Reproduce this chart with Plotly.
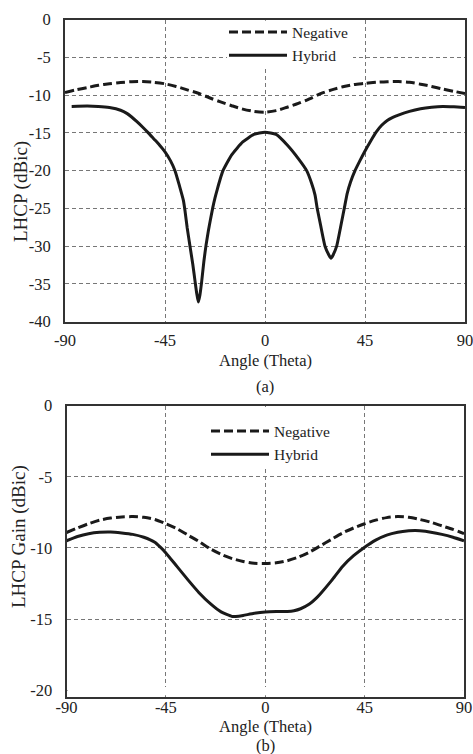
import plotly.graph_objects as go

# (a) LHCP vs angle
a_neg_theta = [-90, -85, -80, -75, -70, -65, -60, -55, -50, -45, -40, -35, -30, -25, -20, -15, -10, -5,
               0, 5, 10, 15, 20, 25, 30, 35, 40, 45, 50, 55, 60, 65, 70, 75, 80, 85, 90]
a_neg_val = [-9.65, -9.3, -9.0, -8.7, -8.5, -8.33, -8.22, -8.2, -8.3, -8.5, -8.85, -9.3, -9.75, -10.35,
             -10.9, -11.4, -11.85, -12.15, -12.25, -12.05, -11.6, -11.1, -10.5, -9.8, -9.3, -8.9, -8.6,
             -8.45, -8.3, -8.22, -8.2, -8.3, -8.55, -8.85, -9.2, -9.5, -9.8]

a_hyb_theta = [-87, -80, -75, -70, -65, -62, -60, -57.5, -55, -52.5, -50, -47.5, -45, -42.5, -40.5, -38.5,
               -36.75, -36, -35, -33.75, -32.5, -31.5, -30.7, -30, -29.3, -28.5, -27.5, -26.5, -25.5,
               -24.5, -23.5, -22.5, -21.5, -20.25, -18.9, -15, -10, -5, 0, 5, 10, 15, 18.75, 21, 22.5,
               23.5, 25, 27, 28.8, 29.7, 30.6, 32.25, 34, 36, 37, 38.5, 40.5, 42.5, 45, 47.5, 50, 52.5,
               55, 57.5, 60, 65, 70, 75, 80, 85, 90]
a_hyb_val = [-11.5, -11.45, -11.5, -11.65, -12.0, -12.45, -12.9, -13.55, -14.25, -15.0, -15.8, -16.6, -17.5,
             -18.7, -20.0, -22.0, -23.9, -25.3, -27.6, -30.0, -32.4, -34.6, -36.3, -37.4, -36.5, -34.7,
             -32.0, -29.8, -28.0, -26.4, -24.9, -23.6, -22.5, -21.2, -20.0, -17.9, -16.2, -15.2, -14.9,
             -15.2, -16.6, -18.4, -20.0, -21.7, -23.2, -25.0, -27.2, -30.0, -31.2, -31.6, -31.2, -30.0,
             -27.5, -24.5, -23.0, -21.5, -20.0, -18.8, -17.4, -16.1, -14.9, -14.0, -13.35, -12.95, -12.65,
             -12.15, -11.8, -11.6, -11.5, -11.55, -11.65]

# (b) LHCP gain vs angle
b_neg_theta = [-90, -85, -80, -75, -70, -65, -60, -55, -50, -45, -40, -35, -30, -25, -20, -15, -10, -5,
               0, 5, 10, 15, 20, 25, 30, 35, 40, 45, 50, 55, 60, 65, 70, 75, 80, 85, 90]
b_neg_val = [-8.92, -8.6, -8.3, -8.05, -7.9, -7.82, -7.8, -7.85, -8.0, -8.3, -8.65, -9.1, -9.55, -10.05,
             -10.45, -10.75, -10.95, -11.08, -11.1, -11.05, -10.9, -10.65, -10.3, -9.85, -9.4, -8.95,
             -8.6, -8.3, -8.05, -7.87, -7.8, -7.85, -8.0, -8.2, -8.45, -8.7, -9.0]

b_hyb_theta = [-90, -85, -80, -75, -70, -65, -60, -55, -50, -47.5, -45, -40, -35, -30, -25, -20, -15, -12,
               -10, -5, 0, 5, 10, 13, 16, 20, 23, 25, 30, 35, 40, 45, 50, 55, 60, 65, 68, 70, 75, 80, 85, 90]
b_hyb_val = [-9.5, -9.2, -9.0, -8.9, -8.88, -8.95, -9.05, -9.25, -9.6, -9.95, -10.35, -11.3, -12.25, -13.15,
             -13.9, -14.5, -14.82, -14.8, -14.75, -14.6, -14.5, -14.47, -14.47, -14.42, -14.28, -13.95,
             -13.55, -13.22, -12.3, -11.3, -10.55, -9.95, -9.45, -9.1, -8.9, -8.8, -8.78, -8.8, -8.9,
             -9.05, -9.25, -9.5]

x_ticks = [-90, -45, 0, 45, 90]
a_y_ticks = [0, -5, -10, -15, -20, -25, -30, -35, -40]
b_y_ticks = [0, -5, -10, -15, -20]

W, H = 473, 754
FONT = "'Liberation Serif', 'Times New Roman', serif"
FS = 16.5
INK = "#222222"


def px_x(v):
    return v / W


def px_y(v):
    return 1 - v / H


def labels(vals):
    # plain hyphen for negatives, like the original
    return [str(v) for v in vals]


fig = go.Figure()

neg_style = dict(color="#1a1a1a", width=3, dash="9px,4px", shape="spline", smoothing=0.8)
hyb_style = dict(color="#1a1a1a", width=3, shape="spline", smoothing=0.5)

fig.add_trace(go.Scatter(x=a_neg_theta, y=a_neg_val, mode="lines", name="Negative", line=neg_style,
                         xaxis="x", yaxis="y", legend="legend"))
fig.add_trace(go.Scatter(x=a_hyb_theta, y=a_hyb_val, mode="lines", name="Hybrid", line=hyb_style,
                         xaxis="x", yaxis="y", legend="legend"))
fig.add_trace(go.Scatter(x=b_neg_theta, y=b_neg_val, mode="lines", name="Negative", line=neg_style,
                         xaxis="x2", yaxis="y2", legend="legend2"))
fig.add_trace(go.Scatter(x=b_hyb_theta, y=b_hyb_val, mode="lines", name="Hybrid", line=hyb_style,
                         xaxis="x2", yaxis="y2", legend="legend2"))

grid = dict(showgrid=True, gridcolor="#777777", gridwidth=1, griddash="4px,3px",
            showline=True, linecolor="#333333", linewidth=2, mirror=True, zeroline=False,
            automargin=False, ticks="", ticklabeloverflow="allow",
            tickfont=dict(family=FONT, size=FS, color=INK))

leg = dict(xanchor="left", yanchor="top", bgcolor="rgba(0,0,0,0)", borderwidth=0, itemwidth=58,
           font=dict(family=FONT, size=15.5, color=INK), tracegroupgap=0)

fig.update_layout(
    width=W, height=H,
    template="plotly_white",
    margin=dict(l=0, r=0, t=0, b=0, autoexpand=False),
    paper_bgcolor="white", plot_bgcolor="white",
    font=dict(family=FONT, size=FS, color=INK),
    xaxis=dict(domain=[px_x(65), px_x(465)], range=[-90, 90], tickvals=x_ticks, ticktext=labels(x_ticks),
               anchor="y", ticklabelstandoff=2, **grid),
    yaxis=dict(domain=[px_y(321.7), px_y(19.6)], range=[-40, 0], tickvals=a_y_ticks,
               ticktext=labels(a_y_ticks), anchor="x", ticklabelstandoff=9, **grid),
    xaxis2=dict(domain=[px_x(66.5), px_x(464)], range=[-90, 90], tickvals=x_ticks, ticktext=labels(x_ticks),
                anchor="y2", ticklabelstandoff=-5, **grid),
    yaxis2=dict(domain=[px_y(696.5), px_y(405.7)], range=[-20.45, 0], tickvals=b_y_ticks,
                ticktext=labels(b_y_ticks), anchor="x2", ticklabelstandoff=9, **grid),
    legend=dict(x=px_x(224), y=px_y(15.5), **leg),
    legend2=dict(x=px_x(206), y=px_y(414.5), **leg),
    showlegend=True,
)

# white boxes behind the legends, hiding the grid there but not the frame;
# the last one hides the -20 grid line that sits just above the lower frame
for x0, x1, y0, y1 in [(227, 353, 20.8, 67), (209, 331, 406.9, 467), (67.6, 462.9, 687, 695.3)]:
    fig.add_shape(type="rect", xref="paper", yref="paper", x0=px_x(x0), x1=px_x(x1),
                  y0=px_y(y1), y1=px_y(y0), fillcolor="white", line_width=0, layer="above")

notes = [
    ("LHCP (dBic)", 21, 192, -90, 19),
    ("LHCP Gain (dBic)", 19, 537, -90, 19),
    ("Angle (Theta)", 265, 360, 0, FS),
    ("(a)", 265, 386.7, 0, FS),
    ("Angle (Theta)", 265, 726.7, 0, FS),
    ("(b)", 265, 745, 0, FS),
]
for text, x, y, ang, size in notes:
    fig.add_annotation(text=text, x=px_x(x), y=px_y(y), xref="paper", yref="paper",
                       showarrow=False, textangle=ang, xanchor="center", yanchor="middle",
                       font=dict(family=FONT, size=size, color=INK))

fig.write_html("out.html", config={"displayModeBar": False},
               post_script="document.body.style.margin='0';")
